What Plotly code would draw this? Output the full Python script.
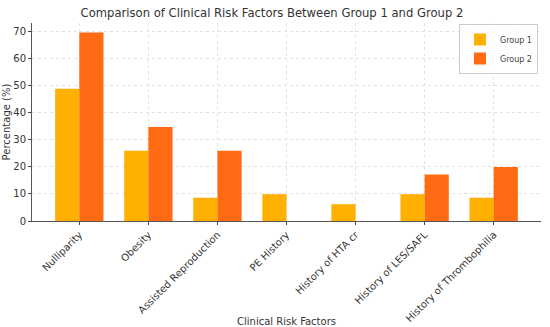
import plotly.graph_objects as go

categories = ["Nulliparity", "Obesity", "Assisted Reproduction", "PE History",
              "History of HTA cr", "History of LES/SAFL", "History of Thrombophilia"]
group1 = [48.8, 25.9, 8.6, 9.9, 6.2, 9.9, 8.6]
group2 = [69.6, 34.7, 25.9, 0, 0, 17.2, 19.9]

FONT = "DejaVu Sans"
C1 = "#FFB000"
C2 = "#FF6A12"

fig = go.Figure()
fig.add_trace(go.Bar(x=categories, y=group1, name="Group 1", marker_color=C1,
                     marker_line_width=0))
fig.add_trace(go.Bar(x=categories, y=group2, name="Group 2", marker_color=C2,
                     marker_line_width=0))

fig.update_layout(
    width=550, height=327,
    margin=dict(l=32, r=9, t=23, b=106),
    paper_bgcolor="white", plot_bgcolor="white",
    barmode="group", bargap=0.3, bargroupgap=0,
    font=dict(family=FONT, size=10, color="#333333"),
    title=dict(text="Comparison of Clinical Risk Factors Between Group 1 and Group 2",
               x=0.4945, xanchor="center", y=0.96, yanchor="middle",
               font=dict(size=11.6, color="#333333")),
    legend=dict(x=0.994, y=0.995, xanchor="right", yanchor="top",
                bgcolor="rgba(255,255,255,0.8)", bordercolor="#cccccc", borderwidth=1,
                font=dict(size=8, color="#444444"),
                itemwidth=30, tracegroupgap=0),
    showlegend=True,
)
fig.update_xaxes(
    type="category", range=[-0.685, 6.685], automargin=False,
    tickangle=-45, ticks="outside", ticklen=3, tickcolor="#444444",
    showline=True, linecolor="#555555", linewidth=1,
    showgrid=True, gridcolor="#e2e2e2", griddash="dot", gridwidth=1,
    tickfont=dict(size=10, color="#333333"),
    title=dict(text="Clinical Risk Factors", font=dict(size=10, color="#333333"), standoff=2),
)
fig.update_yaxes(
    range=[0, 73.1], tickvals=[0, 10, 20, 30, 40, 50, 60, 70], automargin=False,
    ticks="outside", ticklen=3, tickcolor="#444444",
    showline=True, linecolor="#555555", linewidth=1,
    showgrid=True, gridcolor="#e2e2e2", griddash="dot", gridwidth=1,
    zeroline=False,
    tickfont=dict(size=10, color="#333333"),
    title=dict(text="Percentage (%)", font=dict(size=10, color="#333333"), standoff=0),
)

fig.write_html("out.html", config={"displayModeBar": False},
               post_script="document.body.style.margin='0';")
